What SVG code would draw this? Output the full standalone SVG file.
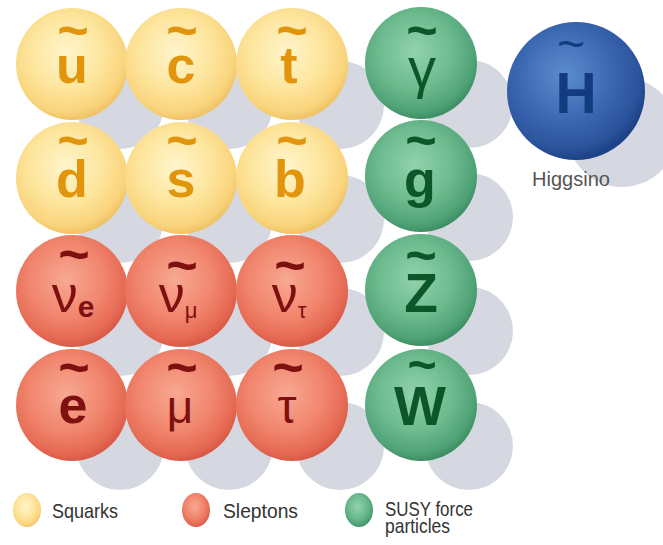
<svg xmlns="http://www.w3.org/2000/svg" width="663" height="545" viewBox="0 0 663 545">
<defs>
<radialGradient id="gy" cx="45%" cy="40%" r="60%">
<stop offset="0" stop-color="#fff5cc"/><stop offset="0.55" stop-color="#fde59c"/><stop offset="0.88" stop-color="#f9d47c"/><stop offset="1" stop-color="#f0c366"/>
</radialGradient>
<radialGradient id="gr" cx="45%" cy="40%" r="60%">
<stop offset="0" stop-color="#f8a892"/><stop offset="0.55" stop-color="#f1866e"/><stop offset="0.88" stop-color="#e66a53"/><stop offset="1" stop-color="#d95a46"/>
</radialGradient>
<radialGradient id="gg" cx="45%" cy="40%" r="60%">
<stop offset="0" stop-color="#92d2ad"/><stop offset="0.55" stop-color="#6dbb8f"/><stop offset="0.88" stop-color="#50a377"/><stop offset="1" stop-color="#3e8f64"/>
</radialGradient>
<radialGradient id="gb" cx="42%" cy="38%" r="62%">
<stop offset="0" stop-color="#5d8ccf"/><stop offset="0.55" stop-color="#3b67b1"/><stop offset="0.88" stop-color="#2a539b"/><stop offset="1" stop-color="#1d4286"/>
</radialGradient>
</defs>
<style>
.sh{fill:#d5d8e0}
.y{fill:url(#gy)}
.r{fill:url(#gr)}
.g{fill:url(#gg)}
.b{fill:url(#gb)}
text{font-family:"Liberation Sans",Arial,sans-serif;text-anchor:middle}
.ty{fill:#e0950c}
.tr{fill:#7e1010}
.tg{fill:#0c5629}
.tb{fill:#133b80}
.big{font-size:52px;font-weight:bold}
.gk{font-size:52px;font-weight:normal}
.til{font-size:54px;font-weight:bold}
.lg{font-size:21px;fill:#333;text-anchor:start}
</style>
<rect width="663" height="545" fill="#ffffff"/>
<g id="shadows">
<circle class="sh" cx="120" cy="105" r="44"/><circle class="sh" cx="229" cy="105" r="44"/><circle class="sh" cx="340" cy="105" r="44"/><circle class="sh" cx="469" cy="104" r="44"/>
<circle class="sh" cx="120" cy="219" r="44"/><circle class="sh" cx="229" cy="219" r="44"/><circle class="sh" cx="340" cy="219" r="44"/><circle class="sh" cx="469" cy="217" r="44"/>
<circle class="sh" cx="120" cy="332" r="44"/><circle class="sh" cx="229" cy="332" r="44"/><circle class="sh" cx="340" cy="332" r="44"/><circle class="sh" cx="469" cy="331" r="44"/>
<circle class="sh" cx="120" cy="446" r="44"/><circle class="sh" cx="229" cy="446" r="44"/><circle class="sh" cx="340" cy="446" r="44"/><circle class="sh" cx="469" cy="446" r="44"/>
<circle class="sh" cx="622" cy="132" r="55"/>
</g>
<g id="squark-u"><circle class="y" cx="72" cy="64" r="56"/><text class="ty"><tspan class="til" x="73" y="49">~</tspan><tspan class="big" x="72" y="83">u</tspan></text></g>
<g id="squark-c"><circle class="y" cx="181" cy="64" r="56"/><text class="ty"><tspan class="til" x="182" y="49">~</tspan><tspan class="big" x="181" y="83">c</tspan></text></g>
<g id="squark-t"><circle class="y" cx="292" cy="64" r="56"/><text class="ty"><tspan class="til" x="292" y="49">~</tspan><tspan class="big" x="289" y="83">t</tspan></text></g>
<g id="photino"><circle class="g" cx="421" cy="63" r="56"/><text class="tg"><tspan class="til" x="422" y="49">~</tspan><tspan class="gk" x="422" y="87" style="font-size:56px">γ</tspan></text></g>
<g id="higgsino"><circle class="b" cx="576" cy="91" r="69"/><text class="tb"><tspan x="571" y="60" style="font-size:48px">~</tspan><tspan class="big" x="576" y="113" style="font-size:57px">H</tspan></text><text class="lg" x="532" y="186" textLength="78" lengthAdjust="spacingAndGlyphs" style="fill:#555;font-size:20px">Higgsino</text></g>
<g id="squark-d"><circle class="y" cx="72" cy="178" r="56"/><text class="ty"><tspan class="til" x="73" y="159">~</tspan><tspan class="big" x="72" y="197">d</tspan></text></g>
<g id="squark-s"><circle class="y" cx="181" cy="178" r="56"/><text class="ty"><tspan class="til" x="182" y="159">~</tspan><tspan class="big" x="181" y="197">s</tspan></text></g>
<g id="squark-b"><circle class="y" cx="292" cy="178" r="56"/><text class="ty"><tspan class="til" x="292" y="159">~</tspan><tspan class="big" x="290" y="197">b</tspan></text></g>
<g id="gluino"><circle class="g" cx="421" cy="176" r="56"/><text class="tg"><tspan class="til" x="421" y="159">~</tspan><tspan class="big" x="420" y="197">g</tspan></text></g>
<g id="sneutrino-e"><circle class="r" cx="72" cy="291" r="56"/><text class="tr"><tspan class="til" x="74" y="273">~</tspan><tspan class="gk" x="73" y="312">ν<tspan style="font-size:30px;font-weight:bold" dy="5">e</tspan></tspan></text></g>
<g id="sneutrino-mu"><circle class="r" cx="181" cy="291" r="56"/><text class="tr"><tspan class="til" x="182" y="284">~</tspan><tspan class="gk" x="178" y="312">ν<tspan style="font-size:22px" dy="6">μ</tspan></tspan></text></g>
<g id="sneutrino-tau"><circle class="r" cx="292" cy="291" r="56"/><text class="tr"><tspan class="til" x="290" y="284">~</tspan><tspan class="gk" x="289" y="312">ν<tspan style="font-size:22px" dy="6">τ</tspan></tspan></text></g>
<g id="zino"><circle class="g" cx="421" cy="290" r="56"/><text class="tg"><tspan class="til" x="421" y="274">~</tspan><tspan class="big" x="421" y="312" style="font-size:55px">Z</tspan></text></g>
<g id="selectron"><circle class="r" cx="72" cy="405" r="56"/><text class="tr"><tspan class="til" x="74" y="386">~</tspan><tspan class="big" x="73" y="423">e</tspan></text></g>
<g id="smuon"><circle class="r" cx="181" cy="405" r="56"/><text class="tr"><tspan class="til" x="182" y="386">~</tspan><tspan class="gk" x="180" y="423" style="font-size:46px">μ</tspan></text></g>
<g id="stau"><circle class="r" cx="292" cy="405" r="56"/><text class="tr"><tspan class="til" x="288" y="386">~</tspan><tspan class="gk" x="287" y="423" style="font-size:48px">τ</tspan></text></g>
<g id="wino"><circle class="g" cx="421" cy="405" r="56"/><text class="tg"><tspan class="til" x="422" y="382" style="font-size:50px">~</tspan><tspan class="big" x="420" y="425" style="font-size:55px">W</tspan></text></g>
<g id="legend-squarks"><ellipse class="y" cx="27" cy="510" rx="14" ry="17"/><text class="lg" x="52" y="518" textLength="66" lengthAdjust="spacingAndGlyphs">Squarks</text></g>
<g id="legend-sleptons"><ellipse class="r" cx="196" cy="510" rx="14" ry="17"/><text class="lg" x="223" y="518" textLength="75" lengthAdjust="spacingAndGlyphs">Sleptons</text></g>
<g id="legend-susy"><ellipse class="g" cx="359" cy="510" rx="14" ry="17"/><text class="lg" x="385" y="516" textLength="88" lengthAdjust="spacingAndGlyphs">SUSY force</text><text class="lg" x="385" y="533" textLength="65" lengthAdjust="spacingAndGlyphs">particles</text></g>
</svg>
